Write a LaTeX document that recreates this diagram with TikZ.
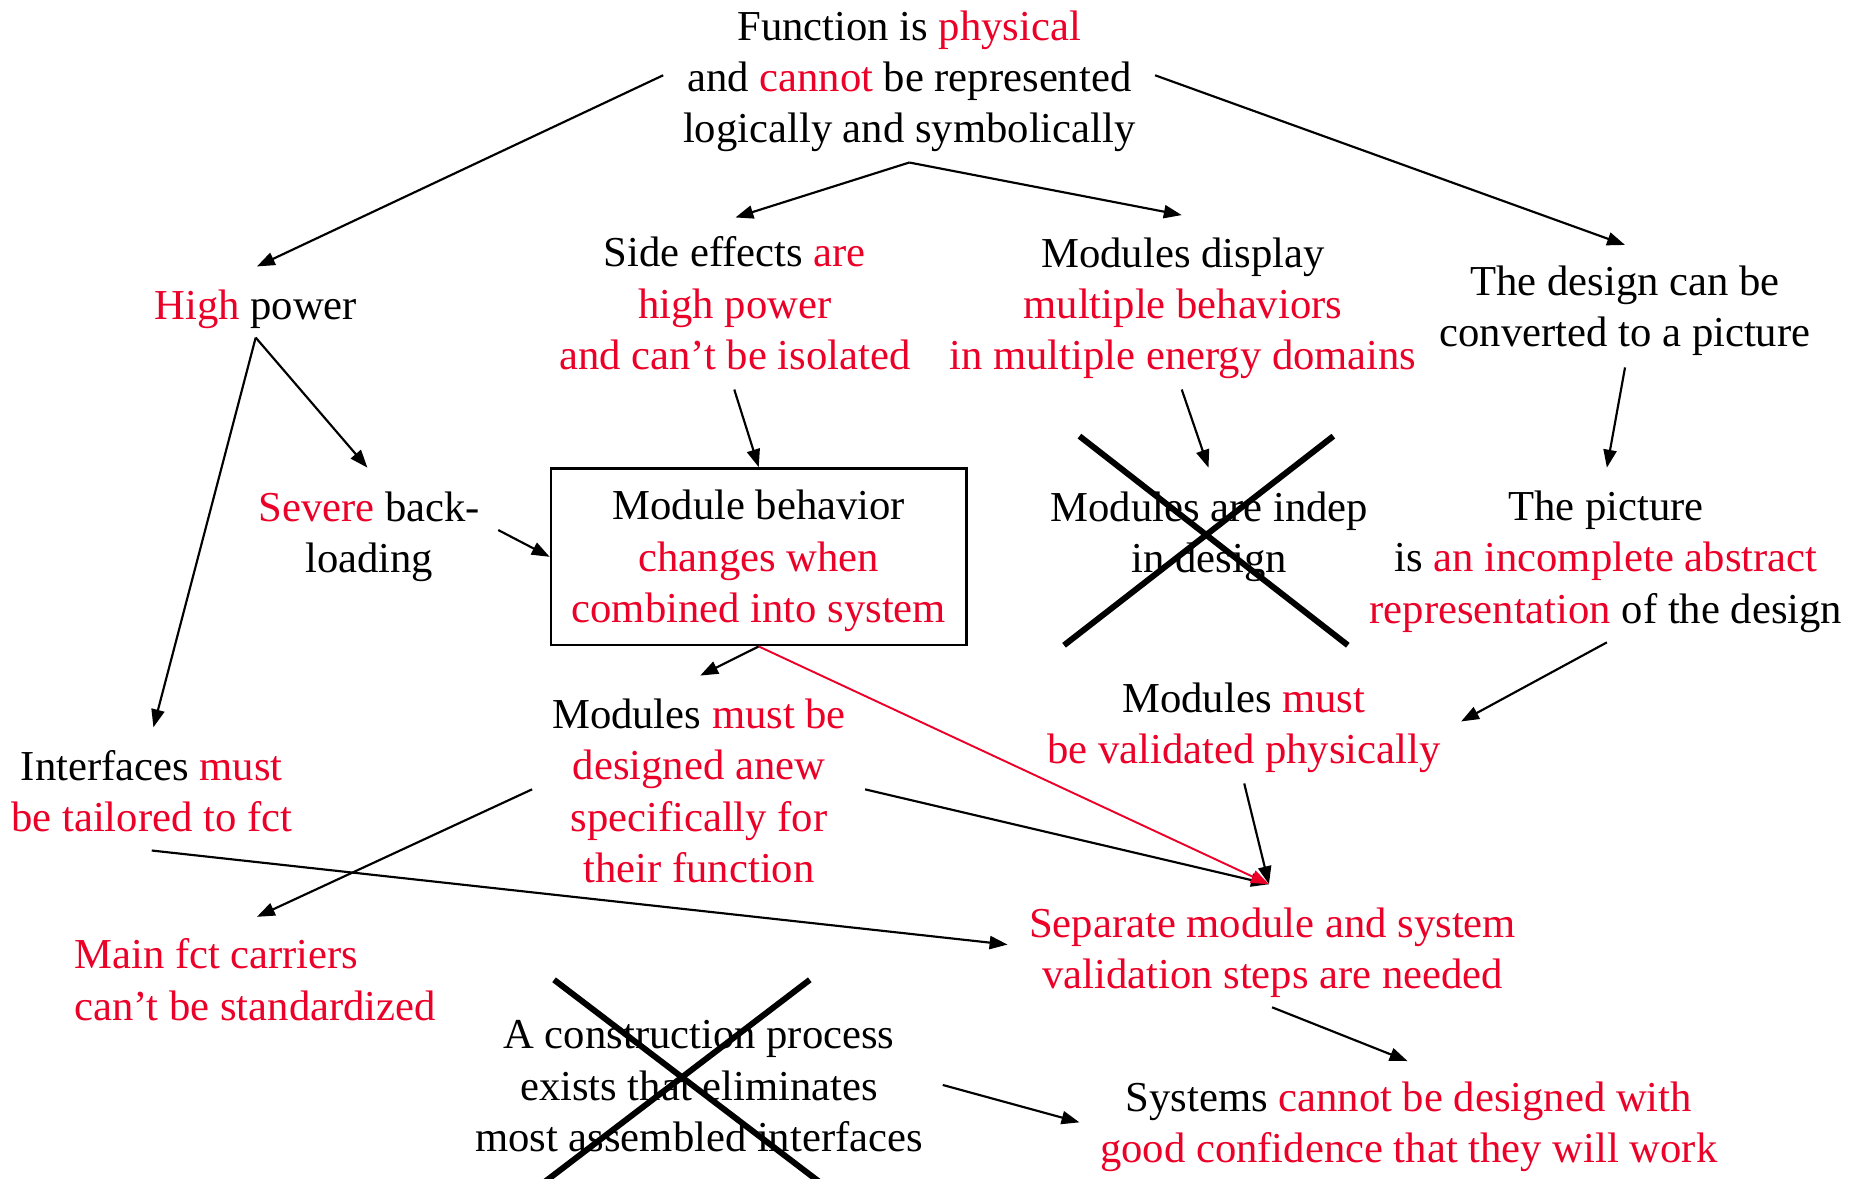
\documentclass[tikz,border=0pt]{standalone}
\usepackage{fontspec}
\setmainfont{Liberation Serif}
\usetikzlibrary{arrows.meta,calc}
\definecolor{hot}{RGB}{235,0,40}
\newcommand{\redtxt}[1]{\textcolor{hot}{#1}}
\begin{document}
\begin{tikzpicture}[x=1pt,y=-1pt,
  txt/.style={align=center,inner sep=0pt,font=\fontsize{35.7}{43}\selectfont},
  arr/.style={line width=1.8pt,-{Triangle[length=15pt,width=11pt]}},
  redarr/.style={line width=1.6pt,draw=hot,-{Triangle[length=15pt,width=11pt,fill=hot]}},
  cross/.style={line width=5pt},
  framebox/.style={draw,line width=2pt,minimum width=348pt,minimum height=148pt,inner sep=0pt}]
\useasboundingbox (0,0) rectangle (1560,986);

% nodes
\node[txt] (top) at (761,68) {Function is \redtxt{physical}\\and \redtxt{cannot} be represented\\logically and symbolically};
\node[txt] (high) at (214,259) {\redtxt{High} power};
\node[txt] (side) at (615,254) {Side effects \redtxt{are}\\\redtxt{high power}\\\redtxt{and can't be isolated}};
\node[txt] (disp) at (990,258) {Modules display\\\redtxt{multiple behaviors}\\\redtxt{in multiple energy domains}};
\node[txt] (design) at (1360,260) {The design can be\\converted to a picture};
\node[txt] (severe) at (309,449) {\redtxt{Severe} back-\\loading};
\node[framebox] (box) at (635,466) {};
\node[txt] (boxtext) at ([yshift=-3.5pt]box.center) {Module behavior\\\redtxt{changes when}\\\redtxt{combined into system}};
\node[txt] (indep) at (1012,449) {Modules are indep\\in design};
\node[txt] (pict) at (1344,470) {The picture\\is \redtxt{an incomplete abstract}\\\redtxt{representation} of the design};
\node[txt] (iface) at (127,662) {Interfaces \redtxt{must}\\\redtxt{be tailored to fct}};
\node[txt] (anew) at (585,662) {Modules \redtxt{must be}\\\redtxt{designed anew}\\\redtxt{specifically for}\\\redtxt{their function}};
\node[txt] (valid) at (1041,609) {Modules \redtxt{must}\\\redtxt{be validated physically}};
\node[txt,align=left,anchor=west] (main) at (62,820) {\redtxt{Main fct carriers}\\\redtxt{can't be standardized}};
\node[txt] (sep) at (1065,797.5) {\redtxt{Separate module and system}\\\redtxt{validation steps are needed}};
\node[txt] (constr) at (585,909) {A construction process\\exists that eliminates\\most assembled interfaces};
\node[txt] (sys) at (1179,943) {Systems \redtxt{cannot be designed with}\\\redtxt{good confidence that they will work}};

% crosses
\draw[cross] ($(indep.center)+(-108.6,-84)$) -- ($(indep.center)+(116,91)$);
\draw[cross] ($(indep.center)+(103.9,-84)$) -- ($(indep.center)+(-121.5,91)$);
\draw[cross] ($(constr.center)+(-121.3,-89)$) -- ($(constr.center)+(115,91)$);
\draw[cross] ($(constr.center)+(92.7,-89)$) -- ($(constr.center)+(-143.4,91)$);

% connectors
\draw[arr] ($(top.center)+(-206,-5)$) -- ($(high.center)+(1,-36)$);
\draw[arr] ($(top.center)+(0,68)$) -- ($(side.center)+(0.5,-72)$);
\draw[arr] ($(top.center)+(0,68)$) -- ($(disp.center)+(-1,-78)$);
\draw[arr] ($(top.center)+(205.7,-5)$) -- ($(design.center)+(0,-55)$);
\draw[arr] ($(high.center)+(0,23.5)$) -- ($(severe.center)+(-1.5,-57.6)$);
\draw[arr] ($(high.center)+(0,23.5)$) -- ($(iface.center)+(1.4,-53.3)$);
\draw[arr] ($(side.center)+(-0.5,72)$) -- (box.north);
\draw[arr] ($(disp.center)+(-1,68)$) -- ($(indep.center)+(-0.6,-57.6)$);
\draw[arr] ($(design.center)+(0,47.5)$) -- ($(pict.center)+(0.8,-78.6)$);
\draw[arr] ($(severe.center)+(108,-5.4)$) -- (box.west);
\draw[arr] (box.south) -- ($(anew.center)+(1,-96.6)$);
\draw[arr] ($(anew.center)+(139,-1.4)$) -- ($(sep.center)+(-3,-57.5)$);
\draw[arr] ($(anew.center)+(-139.7,-1.4)$) -- ($(main.west)+(153,-52.7)$);
\draw[arr] ($(iface.center)+(0,49.8)$) -- ($(sep.center)+(-221.8,-7)$);
\draw[arr] ($(pict.center)+(0.8,67.6)$) -- ($(valid.center)+(181.8,-5.2)$);
\draw[arr] ($(valid.center)+(0.3,46.7)$) -- ($(sep.center)+(-3,-57.5)$);
\draw[arr] ($(sep.center)+(-0.4,45.5)$) -- ($(sys.center)+(-1,-55)$);
\draw[arr] ($(constr.center)+(204,-1)$) -- ($(sys.center)+(-275.6,-3.7)$);
\draw[redarr] (box.south) -- ($(sep.center)+(-3,-57.5)$);
\end{tikzpicture}
\end{document}
